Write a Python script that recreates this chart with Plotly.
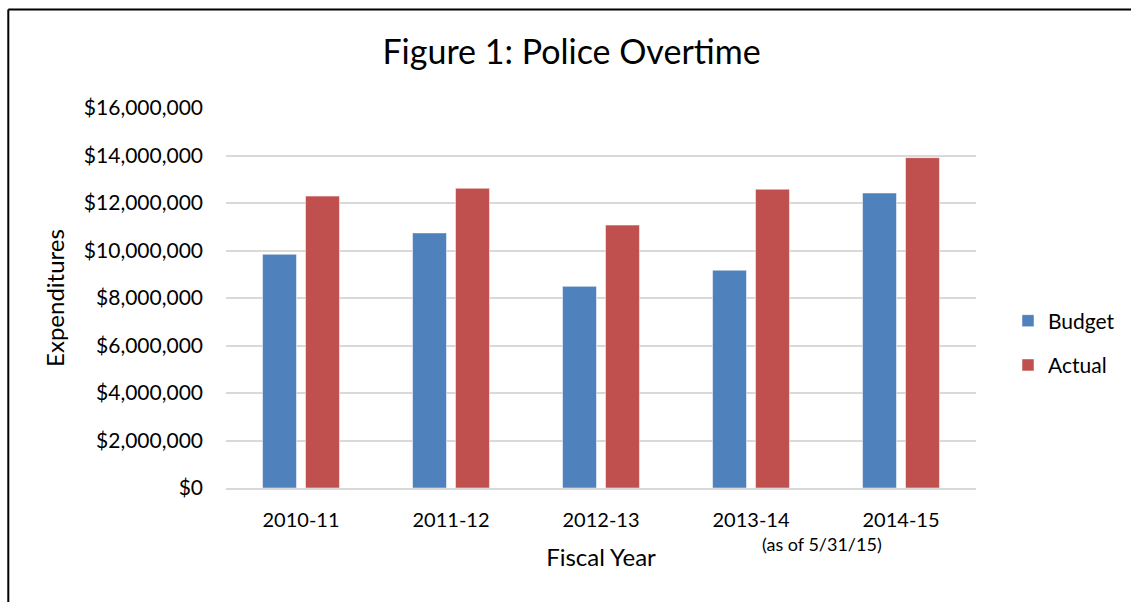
import plotly.graph_objects as go

years = ["2010-11", "2011-12", "2012-13", "2013-14", "2014-15"]
budget = [9840000, 10740000, 8490000, 9170000, 12420000]
actual = [12290000, 12620000, 11070000, 12580000, 13910000]
y_ticks = [0, 2000000, 4000000, 6000000, 8000000, 10000000, 12000000, 14000000, 16000000]
y_labels = ["$0", "$2,000,000", "$4,000,000", "$6,000,000", "$8,000,000",
            "$10,000,000", "$12,000,000", "$14,000,000", "$16,000,000"]

FONT = "Lato, 'Open Sans', sans-serif"

fig = go.Figure()
fig.add_trace(go.Bar(x=years, y=budget, name="Budget", legendgroup="b",
                     marker=dict(color="#4F81BD", line=dict(color="rgba(255,255,255,0.5)", width=1))))
fig.add_trace(go.Bar(x=years, y=actual, name="Actual", legendgroup="a",
                     marker=dict(color="#C0504D", line=dict(color="rgba(255,255,255,0.5)", width=1))))

L, R, T, B = 226, 154, 108, 114
W, H = 1131, 602
pw, ph = W - L - R, H - T - B

def px(x):
    return (x - L) / pw

def py(y):
    return (H - B - y) / ph

fig.update_layout(
    width=W, height=H,
    margin=dict(l=L, r=R, t=T, b=B),
    paper_bgcolor="white", plot_bgcolor="white",
    font=dict(family=FONT, color="#000000", size=20),
    title=dict(text="Figure 1: Police Overtime", x=px(572), xref="paper", xanchor="center",
               y=1 - 52 / H, yanchor="middle", font=dict(size=34, family=FONT)),
    barmode="group", bargap=0.427, bargroupgap=0.21,
    showlegend=True,
    legend=dict(x=px(1008), y=py(343), xanchor="left", yanchor="middle",
                font=dict(size=21), tracegroupgap=14, traceorder="grouped",
                itemwidth=30, bgcolor="rgba(0,0,0,0)"),
    xaxis=dict(type="category", showgrid=False, showline=True, linecolor="#D9D9D9", linewidth=2,
               ticks="", ticklabelstandoff=13, tickfont=dict(size=20),
               title=dict(text="Fiscal Year", font=dict(size=24), standoff=19)),
    yaxis=dict(range=[0, 16000000], tickvals=y_ticks, ticktext=y_labels,
               showgrid=True, gridcolor="#D9D9D9", gridwidth=2, zeroline=False,
               showline=False, ticks="", ticklabelstandoff=22, tickfont=dict(size=21),
               title=dict(text="Expenditures", font=dict(size=24), standoff=12)),
    annotations=[dict(text="(as of 5/31/15)", x=px(823), y=py(544), xref="paper", yref="paper",
                      xanchor="center", yanchor="middle", showarrow=False, font=dict(size=18))],
    shapes=[
        dict(type="line", xref="paper", yref="paper", x0=px(8), x1=px(8), y0=py(9.5), y1=py(605),
             line=dict(color="black", width=2)),
        dict(type="line", xref="paper", yref="paper", x0=px(8), x1=px(1135), y0=py(9.5), y1=py(9.5),
             line=dict(color="black", width=2)),
    ],
)

fig.write_html("out.html")
